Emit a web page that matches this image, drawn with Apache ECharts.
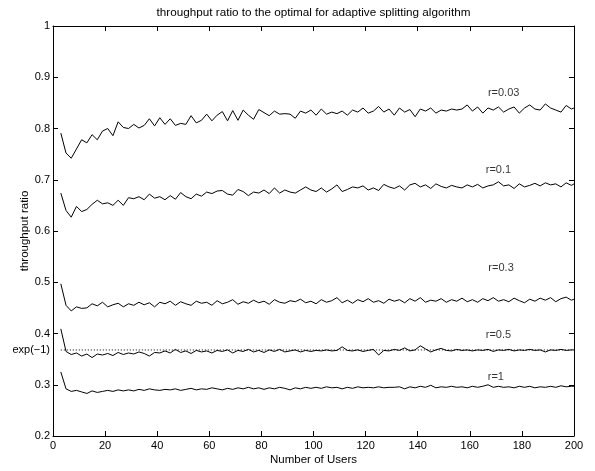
<!DOCTYPE html>
<html>
<head>
<meta charset="utf-8">
<script src="https://cdn.jsdelivr.net/npm/echarts@6/dist/echarts.min.js"></script>
<style>
html,body{margin:0;padding:0;background:#fff;}
#chart{width:595px;height:471px;}
</style>
</head>
<body>
<div id="chart"></div>
<script>
// Users: 3,5,...,199 then 200
const users = [];
for (let u = 3; u < 200; u += 2) users.push(u);
users.push(200);

const r003 = [
0.791,0.752,0.742,0.760,0.778,0.772,0.788,0.778,0.795,0.800,
0.786,0.813,0.802,0.800,0.808,0.801,0.806,0.819,0.805,0.821,
0.808,0.819,0.806,0.810,0.808,0.825,0.811,0.816,0.828,0.815,
0.826,0.833,0.815,0.835,0.816,0.836,0.826,0.818,0.837,0.831,
0.825,0.834,0.828,0.829,0.828,0.820,0.834,0.830,0.836,0.826,
0.838,0.828,0.832,0.829,0.834,0.826,0.836,0.832,0.840,0.830,
0.834,0.843,0.832,0.838,0.826,0.840,0.832,0.837,0.823,0.838,
0.834,0.840,0.830,0.836,0.834,0.838,0.836,0.838,0.846,0.834,
0.842,0.830,0.840,0.836,0.842,0.832,0.838,0.842,0.830,0.840,
0.846,0.838,0.836,0.848,0.840,0.836,0.832,0.845,0.838,0.840];

const r01 = [
0.674,0.640,0.627,0.648,0.638,0.642,0.652,0.660,0.653,0.655,
0.650,0.660,0.650,0.665,0.663,0.667,0.661,0.672,0.664,0.667,
0.661,0.669,0.662,0.675,0.667,0.663,0.672,0.668,0.676,0.673,
0.678,0.679,0.672,0.670,0.681,0.677,0.669,0.676,0.674,0.680,
0.673,0.684,0.674,0.680,0.676,0.674,0.680,0.686,0.680,0.677,
0.684,0.676,0.682,0.690,0.677,0.681,0.686,0.684,0.688,0.680,
0.684,0.679,0.691,0.686,0.683,0.688,0.680,0.690,0.693,0.686,
0.690,0.683,0.692,0.687,0.684,0.689,0.686,0.684,0.690,0.686,
0.691,0.684,0.688,0.690,0.696,0.688,0.690,0.683,0.692,0.686,
0.689,0.693,0.688,0.694,0.690,0.692,0.686,0.694,0.689,0.692];

const r03 = [
0.497,0.455,0.444,0.452,0.449,0.450,0.458,0.454,0.461,0.452,
0.456,0.459,0.452,0.458,0.455,0.461,0.456,0.460,0.452,0.461,
0.458,0.463,0.455,0.462,0.458,0.455,0.463,0.459,0.461,0.455,
0.464,0.458,0.461,0.466,0.457,0.462,0.459,0.465,0.460,0.463,
0.457,0.466,0.461,0.459,0.464,0.462,0.467,0.460,0.463,0.458,
0.466,0.461,0.464,0.470,0.460,0.465,0.459,0.466,0.462,0.468,
0.461,0.464,0.459,0.467,0.463,0.466,0.460,0.468,0.463,0.470,
0.461,0.465,0.463,0.468,0.461,0.466,0.463,0.469,0.462,0.466,
0.461,0.468,0.464,0.470,0.463,0.466,0.462,0.469,0.464,0.460,
0.467,0.463,0.469,0.465,0.470,0.462,0.468,0.471,0.465,0.467];

const r05 = [
0.409,0.365,0.359,0.362,0.356,0.360,0.353,0.360,0.358,0.361,
0.357,0.363,0.359,0.362,0.360,0.364,0.361,0.356,0.363,0.362,
0.366,0.362,0.369,0.363,0.366,0.361,0.367,0.364,0.366,0.362,
0.367,0.365,0.368,0.362,0.367,0.365,0.369,0.364,0.367,0.363,
0.368,0.365,0.369,0.364,0.366,0.368,0.364,0.367,0.365,0.367,
0.366,0.368,0.366,0.367,0.374,0.367,0.366,0.368,0.365,0.367,
0.369,0.358,0.367,0.366,0.369,0.367,0.372,0.366,0.368,0.376,
0.370,0.364,0.368,0.371,0.367,0.366,0.369,0.367,0.368,0.366,
0.368,0.367,0.369,0.365,0.368,0.367,0.369,0.366,0.368,0.367,
0.369,0.367,0.368,0.364,0.368,0.367,0.369,0.367,0.368,0.368];

const r1 = [
0.325,0.292,0.287,0.289,0.286,0.283,0.288,0.285,0.287,0.289,
0.287,0.290,0.288,0.290,0.288,0.291,0.289,0.292,0.290,0.289,
0.291,0.290,0.292,0.289,0.291,0.293,0.290,0.292,0.291,0.294,
0.292,0.290,0.293,0.291,0.294,0.292,0.295,0.292,0.294,0.291,
0.294,0.292,0.295,0.293,0.290,0.294,0.292,0.295,0.293,0.295,
0.293,0.296,0.294,0.295,0.292,0.295,0.293,0.296,0.294,0.295,
0.294,0.296,0.294,0.295,0.295,0.296,0.292,0.296,0.294,0.297,
0.295,0.299,0.294,0.296,0.295,0.297,0.295,0.296,0.294,0.297,
0.295,0.297,0.300,0.295,0.297,0.295,0.296,0.294,0.297,0.295,
0.297,0.294,0.296,0.295,0.297,0.295,0.298,0.296,0.297,0.297];

const EXP1 = Math.exp(-1);
const refLineX = [3, 200];

const curveNames = ['r=0.03', 'r=0.1', 'r=0.3', 'r=0.5', 'r=1'];
const curves = [r003, r01, r03, r05, r1];
const labelX = [173, 171, 172, 171, 170];
const labelY = [0.870, 0.720, 0.527, 0.397, 0.316];

const xTicks = [0, 20, 40, 60, 80, 100, 120, 140, 160, 180, 200];
const yTicks = [0.2, 0.3, 0.4, 0.5, 0.6, 0.7, 0.8, 0.9, 1];
const yLabelValues = [0.2, 0.3, EXP1, 0.4, 0.5, 0.6, 0.7, 0.8, 0.9, 1];

const FONT = 'Liberation Sans, Arial, Helvetica, sans-serif';
const chart = echarts.init(document.getElementById('chart'), null, {renderer: 'canvas'});

const lineSeries = curves.map((vals, k) => ({
  type: 'line',
  name: curveNames[k],
  data: users.map((u, i) => [u, vals[i]]),
  showSymbol: false,
  symbol: 'none',
  lineStyle: {color: '#000', width: 1},
  animation: false,
  z: 3
}));

const axisText = {color: '#000', fontFamily: FONT, fontSize: 11};

chart.setOption({
  animation: false,
  backgroundColor: '#fff',
  grid: {left: 53, right: 21, top: 26, bottom: 34, containLabel: false},
  xAxis: [
    {
      type: 'value', position: 'bottom', min: 0, max: 200, interval: 20,
      name: 'Number of Users', nameLocation: 'middle', nameGap: 18, nameMoveOverlap: false,
      nameTextStyle: {color: '#000', fontFamily: FONT, fontSize: 11.5},
      axisLine: {show: true, onZero: false, lineStyle: {color: '#000', width: 1}},
      axisTick: {show: true, inside: true, length: 5, lineStyle: {color: '#000'}},
      axisLabel: Object.assign({margin: 4}, axisText),
      splitLine: {show: false}
    },
    {
      type: 'value', position: 'top', min: 0, max: 200, interval: 20,
      name: 'throughput ratio to the optimal for adaptive splitting algorithm',
      nameLocation: 'middle', nameGap: 7, nameMoveOverlap: false,
      nameTextStyle: {color: '#000', fontFamily: FONT, fontSize: 11.7},
      axisLine: {show: true, onZero: false, lineStyle: {color: '#000', width: 1}},
      axisTick: {show: true, inside: true, length: 5, lineStyle: {color: '#000'}},
      axisLabel: {show: false},
      splitLine: {show: false}
    }
  ],
  yAxis: [
    {
      type: 'value', position: 'left', min: 0.2, max: 1, interval: 0.1,
      name: 'throughput ratio', nameLocation: 'middle', nameGap: 22, nameMoveOverlap: false,
      nameTextStyle: {color: '#000', fontFamily: FONT, fontSize: 11.5},
      axisLine: {show: true, onZero: false, lineStyle: {color: '#000', width: 1}},
      axisTick: {show: true, inside: true, length: 5, lineStyle: {color: '#000'}, customValues: yTicks},
      axisLabel: Object.assign({
        margin: 3,
        customValues: yLabelValues,
        formatter: v => Math.abs(v - EXP1) < 1e-6 ? 'exp(\u22121)' : String(+Number(v).toFixed(1))
      }, axisText),
      splitLine: {show: false}
    },
    {
      type: 'value', position: 'right', min: 0.2, max: 1, interval: 0.1,
      axisLine: {show: true, onZero: false, lineStyle: {color: '#000', width: 1}},
      axisTick: {show: true, inside: true, length: 5, lineStyle: {color: '#000'}},
      axisLabel: {show: false},
      splitLine: {show: false}
    }
  ],
  series: [
    {
      type: 'line',
      data: refLineX.map(x => [x, EXP1]),
      showSymbol: false, symbol: 'none',
      lineStyle: {color: '#000', width: 1, type: [1, 2]},
      z: 2
    },
    ...lineSeries,
    {
      type: 'scatter',
      symbolSize: 0,
      data: curveNames.map((n, k) => ({name: n, value: [labelX[k], labelY[k]]})),
      label: {
        show: true, position: 'inside',
        formatter: p => p.name,
        color: '#000', fontFamily: FONT, fontSize: 11
      },
      z: 4
    }
  ]
});
</script>
</body>
</html>
